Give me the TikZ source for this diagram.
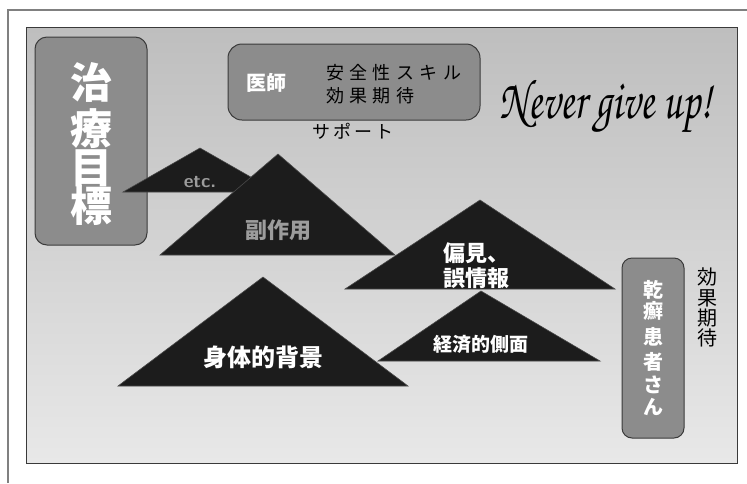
\documentclass[tikz,border=0pt]{standalone}
\usepackage[T1,TU]{fontenc}
\usepackage{fontspec}
\newfontfamily\jp{Noto Sans CJK JP}
\newcommand{\scriptfnt}{\fontencoding{T1}\fontfamily{pzc}\fontseries{m}\fontshape{it}\selectfont}
\usetikzlibrary{shapes.geometric}
\definecolor{boxgray}{HTML}{8C8C8C}
\definecolor{edgegray}{HTML}{3A3A3A}
\definecolor{tri}{HTML}{1C1C1C}
\definecolor{dimtext}{HTML}{9C9C9C}
\tikzset{
  gbox/.style={draw=edgegray, line width=1pt, fill=boxgray, rounded corners=#1, inner sep=0pt},
  gbox/.default=12pt,
  wtxt/.style={text=white, font=\jp\bfseries\fontsize{#1}{#1}\selectfont, inner sep=0pt},
  btxt/.style={text=black, font=\jp\fontsize{#1}{#1}\selectfont, inner sep=0pt},
  dtxt/.style={text=dimtext, font=\jp\bfseries\fontsize{#1}{#1}\selectfont, inner sep=0pt},
  trishape/.style={fill=tri, draw=tri!80!white, line width=0.6pt, line join=miter}
}
\begin{document}
\begin{tikzpicture}[x=1pt, y=-1pt]
\useasboundingbox (0,0) rectangle (747,483);
\fill[white] (0,0) rectangle (747,483);
% outer frame
\draw[gray, line width=1.5pt] (8,483) -- (8,10) -- (747,10);
% inner panel
\shade[top color={rgb,255:red,190;green,190;blue,190}, bottom color={rgb,255:red,232;green,232;blue,232}] (26,27) rectangle (737,463);
\draw[edgegray, line width=1pt] (26,27) rectangle (737,463);

% goal box
\node[gbox=12pt, minimum width=112pt, minimum height=208pt] (goal) at (91,141) {};
\node[wtxt=42] (g1) at (91,82) {治};
\node[wtxt=42] (g2) at (91,129) {療};
\node[wtxt=42] (g3) at (91,168) {目};
\node[wtxt=42] (g4) at (91,206) {標};

% doctor box
\node[gbox=14pt, minimum width=252pt, minimum height=76pt] (doc) at (354,82) {};
\node[wtxt=20] (doct) at (266,83) {医師};
\node[btxt=18, anchor=west] (d1) at (326,73) {\addfontfeature{LetterSpace=30}安全性スキル};
\node[btxt=18, anchor=west] (d2) at (326,96) {\addfontfeature{LetterSpace=30}効果期待};
\node[btxt=18] (sup) at (353,131) {\addfontfeature{LetterSpace=15}サポート};

% Never give up
\node[inner sep=0pt] (ngu) at (606,107) {\resizebox{212pt}{40pt}{\scriptfnt Never give up!}};

% triangles
\fill[trishape] (123,192) -- (200,148) -- (277,192) -- cycle;
\fill[trishape] (160,255) -- (278,154) -- (395,255) -- cycle;
\fill[trishape] (345,289) -- (480,200) -- (615,289) -- cycle;
\fill[trishape] (378,361) -- (481,291) -- (600,361) -- cycle;
\fill[trishape] (118,386) -- (263,277) -- (408,386) -- cycle;

\node[dtxt=19] (etc) at (200,182) {\sffamily\bfseries etc.};
\node[dtxt=22] (side) at (278,230) {副作用};
\node[wtxt=22, anchor=west] (bias1) at (443,253) {偏見、};
\node[wtxt=22, anchor=west] (bias2) at (443,278) {誤情報};
\node[wtxt=19] (econ) at (481,344) {経済的側面};
\node[wtxt=24] (body) at (263,357) {身体的背景};

% patient box
\node[gbox=10pt, minimum width=62pt, minimum height=180pt] (pat) at (653,348) {};
\node[wtxt=20] (p1) at (653,290) {乾};
\node[wtxt=20] (p2) at (653,311) {癬};
\node[wtxt=20] (p3) at (653,337) {患};
\node[wtxt=20] (p4) at (653,362) {者};
\node[wtxt=20] (p5) at (653,385) {さ};
\node[wtxt=20] (p6) at (653,407) {ん};

\node[btxt=20] (e1) at (707,277) {効};
\node[btxt=20] (e2) at (707,298) {果};
\node[btxt=20] (e3) at (707,318) {期};
\node[btxt=20] (e4) at (707,338) {待};
\end{tikzpicture}
\end{document}
